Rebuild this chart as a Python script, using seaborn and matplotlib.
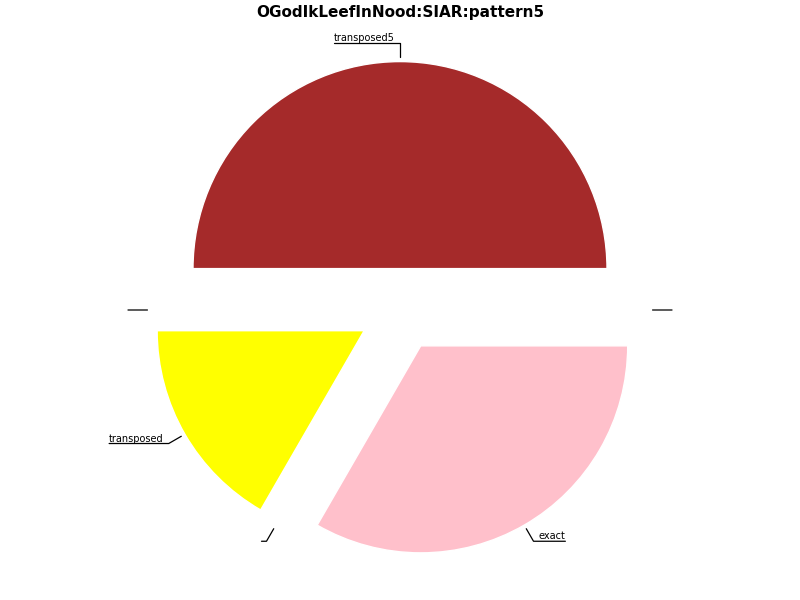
import numpy as np
import matplotlib
matplotlib.use("Agg")
import matplotlib.pyplot as plt
import seaborn as sns

title = "OGodIkLeefInNood:SIAR:pattern5"
labels = ["transposed5", "", "transposed", "", "exact", ""]
values = [3, 0, 1, 0, 2, 0]
colors = ["brown", "white", "yellow", "white", "pink", "white"]

sns.set_style("white")
plt.rcParams["font.family"] = ["DejaVu Sans"]
plt.rcParams["text.color"] = "black"

r = 207  # pie radius in pixels
fig = plt.figure(figsize=(8, 6), dpi=100)
ax = fig.add_axes([0, 0, 1, 1])
wedges, _ = ax.pie(values, colors=colors, explode=[0.2] * len(values),
                   startangle=0, counterclock=True)

gap = 5 / r  # space between the elbow and the label text
for w, lab in zip(wedges, labels):
    ang = (w.theta1 + w.theta2) / 2
    x, y = np.cos(np.deg2rad(ang)), np.sin(np.deg2rad(ang))
    left = x < 1e-6
    # horizontal leaders can't use the "angle" style (parallel lines)
    if abs(y) < 1e-6:
        conn = "arc3"
    else:
        conn = f"angle,angleA=0,angleB={ang}"
    tx = 1.29 * x + (-gap if left else gap)
    ax.annotate(lab, xy=(1.22 * x, 1.22 * y), xytext=(tx, 1.29 * y),
                ha="right" if left else "left", va="bottom", fontsize=7,
                arrowprops=dict(arrowstyle="-", color="black", lw=0.9,
                                shrinkA=0, shrinkB=0, patchA=None,
                                relpos=(0, 0) if left else (1, 0),
                                connectionstyle=conn))

ax.set_xlim(-400 / r, 400 / r)
ax.set_ylim(-290 / r, 310 / r)
ax.axis("off")
fig.text(0.5, 1 - 13 / 600, title, ha="center", va="center",
         fontsize=11, fontweight="bold", color="black")

fig.savefig("out.png", dpi=100)
